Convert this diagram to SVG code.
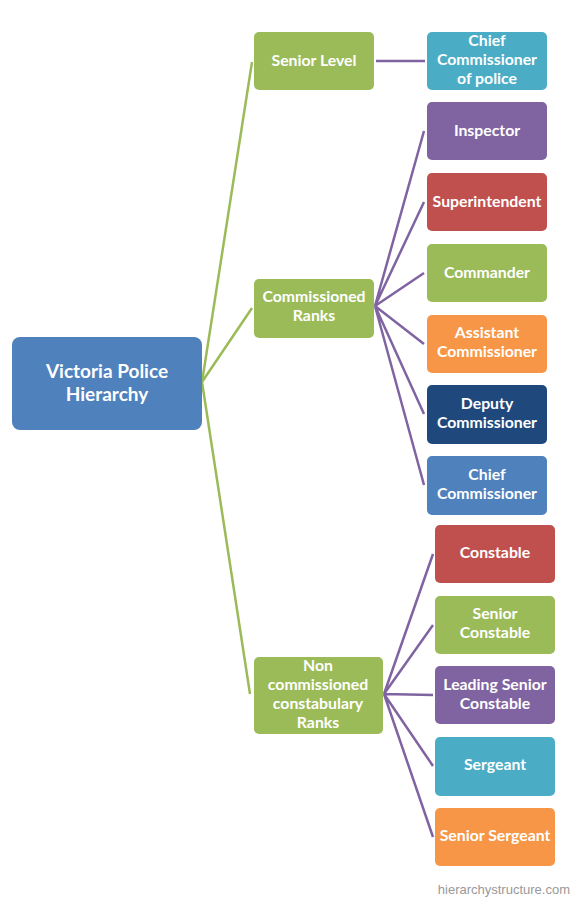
<svg xmlns="http://www.w3.org/2000/svg" width="572" height="900" viewBox="0 0 572 900">
<style>
.n{stroke:none}
.t{font-family:Lato,"Open Sans","Liberation Sans",sans-serif;font-weight:bold;font-size:15.8px;fill:#fff;text-anchor:middle}
.tr{font-family:Lato,"Open Sans","Liberation Sans",sans-serif;font-weight:bold;font-size:19px;fill:#fff;text-anchor:middle}
.g{stroke:#9BBB59;stroke-width:2.5;fill:none}
.p{stroke:#8064A2;stroke-width:2.5;fill:none}
.blue{fill:#4F81BD}.green{fill:#9BBB59}.teal{fill:#4BACC6}.purple{fill:#8064A2}.red{fill:#C0504D}.orange{fill:#F79646}.navy{fill:#1F497D}
</style>
<rect width="572" height="900" fill="#fff"/>
<g id="connectors">
<path class="g" d="M202,382 L252,62 M202,382 L252,308 M202,382 L250,694"/>
<path class="p" d="M376,61 L425,61"/>
<path class="p" d="M375,306 L424,131 M375,306 L424,202 M375,306 L424,273 M375,306 L424,344 M375,306 L424,414 M375,306 L424,485"/>
<path class="p" d="M384,694 L433,554 M384,694 L433,625 M384,694 L433,695 M384,694 L433,766 M384,694 L433,837"/>
</g>
<g id="root"><rect class="blue" x="12" y="337" width="190" height="93" rx="8"/><text class="tr" x="107" y="378">Victoria Police</text><text class="tr" x="107" y="401">Hierarchy</text></g>
<g id="senior-level"><rect class="green" x="254" y="32" width="120" height="58" rx="5"/><text class="t" x="314" y="66">Senior Level</text></g>
<g id="commissioned-ranks"><rect class="green" x="254" y="279" width="120" height="59" rx="5"/><text class="t" x="314" y="302">Commissioned</text><text class="t" x="314" y="321">Ranks</text></g>
<g id="non-commissioned"><rect class="green" x="254" y="657" width="129" height="77" rx="5"/><text class="t" x="318" y="671">Non</text><text class="t" x="318" y="690">commissioned</text><text class="t" x="318" y="709">constabulary</text><text class="t" x="318" y="728">Ranks</text></g>
<g id="chief-commissioner-of-police"><rect class="teal" x="427" y="32" width="120" height="58" rx="5"/><text class="t" x="487" y="46">Chief</text><text class="t" x="487" y="65">Commissioner</text><text class="t" x="487" y="84">of police</text></g>
<g id="inspector"><rect class="purple" x="427" y="102" width="120" height="58" rx="5"/><text class="t" x="487" y="136">Inspector</text></g>
<g id="superintendent"><rect class="red" x="427" y="173" width="120" height="58" rx="5"/><text class="t" x="487" y="207">Superintendent</text></g>
<g id="commander"><rect class="green" x="427" y="244" width="120" height="58" rx="5"/><text class="t" x="487" y="278">Commander</text></g>
<g id="assistant-commissioner"><rect class="orange" x="427" y="315" width="120" height="58" rx="5"/><text class="t" x="487" y="338">Assistant</text><text class="t" x="487" y="357">Commissioner</text></g>
<g id="deputy-commissioner"><rect class="navy" x="427" y="385" width="120" height="59" rx="5"/><text class="t" x="487" y="409">Deputy</text><text class="t" x="487" y="428">Commissioner</text></g>
<g id="chief-commissioner"><rect class="blue" x="427" y="456" width="120" height="59" rx="5"/><text class="t" x="487" y="480">Chief</text><text class="t" x="487" y="499">Commissioner</text></g>
<g id="constable"><rect class="red" x="435" y="525" width="120" height="58" rx="5"/><text class="t" x="495" y="558">Constable</text></g>
<g id="senior-constable"><rect class="green" x="435" y="596" width="120" height="58" rx="5"/><text class="t" x="495" y="619">Senior</text><text class="t" x="495" y="638">Constable</text></g>
<g id="leading-senior-constable"><rect class="purple" x="435" y="666" width="120" height="58" rx="5"/><text class="t" x="495" y="690">Leading Senior</text><text class="t" x="495" y="709">Constable</text></g>
<g id="sergeant"><rect class="teal" x="435" y="737" width="120" height="59" rx="5"/><text class="t" x="495" y="770">Sergeant</text></g>
<g id="senior-sergeant"><rect class="orange" x="435" y="808" width="120" height="58" rx="5"/><text class="t" x="495" y="841">Senior Sergeant</text></g>
<text x="570" y="894" font-family="Liberation Sans,Arial,sans-serif" font-size="13" fill="#999" text-anchor="end">hierarchystructure.com</text>
</svg>
